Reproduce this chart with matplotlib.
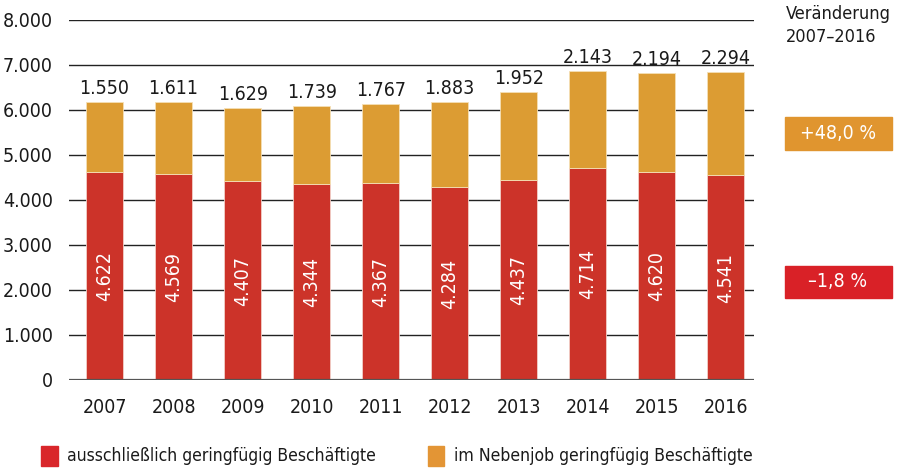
import numpy as np
import matplotlib.pyplot as plt
from matplotlib.patches import Rectangle

years = ['2007', '2008', '2009', '2010', '2011', '2012', '2013', '2014', '2015', '2016']
ausschl = np.array([4622, 4569, 4407, 4344, 4367, 4284, 4437, 4714, 4620, 4541])
neben = np.array([1550, 1611, 1629, 1739, 1767, 1883, 1952, 2143, 2194, 2294])
yticks = [0, 1000, 2000, 3000, 4000, 5000, 6000, 7000, 8000]

red = '#cc3329'
orange = '#dc9c33'

plt.rcParams['font.family'] = ['DejaVu Sans']
plt.rcParams['font.stretch'] = 'condensed'

def de(n):
    return f'{n:,}'.replace(',', '.')

fig = plt.figure(figsize=(9.01, 4.69), dpi=100)
ax = fig.add_axes([0.077, 0.19, 0.760, 0.768])

fs = 14
x = np.arange(len(years))
for t in yticks[1:]:
    ax.axhline(t, color='#222222', lw=1.0, zorder=0)
b1 = ax.bar(x, ausschl, 0.54, color=red, edgecolor='#f2d0c8', lw=0.6, zorder=2)
b2 = ax.bar(x, neben, 0.54, bottom=ausschl, color=orange, edgecolor='#f5dfb5', lw=0.6, zorder=2)
ax.axhline(0, color='#555555', lw=1.6, zorder=3)

for i in range(len(years)):
    ax.text(x[i], ausschl[i] / 2, de(ausschl[i]), rotation=90, ha='center', va='center',
            color='white', fontsize=fs)
    ax.text(x[i], ausschl[i] + neben[i] + 90, de(neben[i]), ha='center', va='bottom',
            color='#1a1a1a', fontsize=fs)

ax.set_xlim(-0.51, 9.41)
ax.set_ylim(0, 8000)
ax.set_xticks(x)
ax.set_xticklabels(years, fontsize=fs, color='#1a1a1a')
ax.set_yticks(yticks)
ax.set_yticklabels([de(t) for t in yticks], fontsize=fs, color='#1a1a1a')
ax.tick_params(length=0, pad=13)
ax.tick_params(axis='y', pad=12)
for s in ax.spines.values():
    s.set_visible(False)

fig.text(0.872, 0.990, 'Veränderung\n2007–2016', ha='left', va='top', fontsize=13,
         color='#1a1a1a', linespacing=1.35)
fig.patches.append(Rectangle((0.871, 0.680), 0.119, 0.070, transform=fig.transFigure,
                             color='#e0952f'))
fig.text(0.930, 0.715, '+48,0 %', ha='center', va='center', color='white', fontsize=fs)
fig.patches.append(Rectangle((0.871, 0.365), 0.119, 0.068, transform=fig.transFigure,
                             color='#d92127'))
fig.text(0.930, 0.399, '–1,8 %', ha='center', va='center', color='white', fontsize=fs)

fig.patches.append(Rectangle((0.046, 0.007), 0.018, 0.042, transform=fig.transFigure,
                             color='#d9262a'))
fig.text(0.074, 0.028, 'ausschließlich geringfügig Beschäftigte', ha='left', va='center',
         fontsize=12.6, color='#1a1a1a')
fig.patches.append(Rectangle((0.475, 0.007), 0.018, 0.042, transform=fig.transFigure,
                             color='#e39535'))
fig.text(0.504, 0.028, 'im Nebenjob geringfügig Beschäftigte', ha='left', va='center',
         fontsize=12.6, color='#1a1a1a')

fig.savefig('out.png', dpi=100)
